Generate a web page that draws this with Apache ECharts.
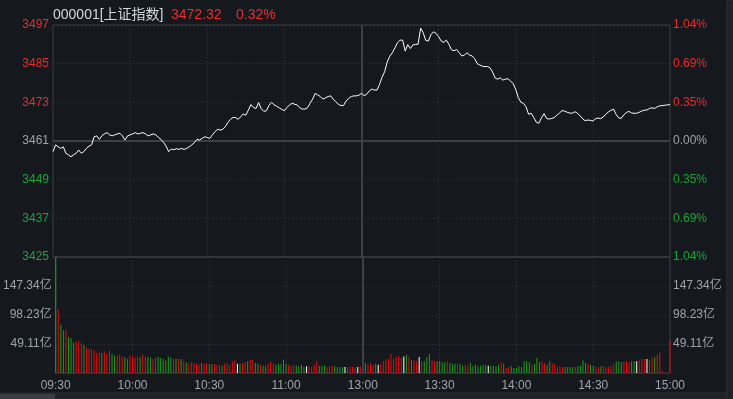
<!DOCTYPE html>
<html>
<head>
<meta charset="utf-8">
<title>000001 上证指数 分时</title>
<script src="https://cdn.jsdelivr.net/npm/echarts/dist/echarts.min.js"></script>
<style>
  html, body { margin: 0; padding: 0; background: #15181d; }
  #chart { width: 733px; height: 399px; }
</style>
</head>
<body>
<div id="chart"></div>
<script>
// 昨收 / 最新
var prevClose = 3461;
var lastPrice = 3472.32;
var lastPct = '0.32%';

var tickLabels = ['09:30', '10:00', '10:30', '11:00', '13:00', '13:30', '14:00', '14:30', '15:00'];

// 每分钟价格 (09:30 - 11:30, 13:01 - 15:00)
var prices = [
  3457.7, 3459.8, 3459.2, 3458.7, 3459.2, 3457.2, 3456.7, 3456.1, 3456.7, 3457.2,
  3458.2, 3457.2, 3457.7, 3458.7, 3459.4, 3459.8, 3462.3, 3462.6, 3461.5, 3462.6,
  3463.2, 3463.6, 3462.9, 3462.6, 3462.9, 3463.2, 3463.4, 3462.6, 3461.3, 3462.6,
  3462.9, 3463.2, 3463.6, 3463.2, 3463.4, 3463.6, 3463.2, 3462.6, 3462.9, 3463.2,
  3462.9, 3462.1, 3461.5, 3460.6, 3459.4, 3457.7, 3458.5, 3458.3, 3458.6, 3458.4,
  3458.7, 3458.4, 3458.7, 3459.2, 3459.8, 3460.5, 3461.5, 3461.3, 3461.8, 3462.3,
  3462.1, 3461.8, 3462.9, 3463.9, 3464.6, 3464.4, 3464.6, 3465.4, 3466.7, 3467.7,
  3468.3, 3468.3, 3467.7, 3468.5, 3469.4, 3469.0, 3470.6, 3472.3, 3471.4, 3471.1,
  3472.9, 3471.0, 3470.2, 3470.4, 3472.0, 3473.0, 3472.2, 3471.8, 3471.3, 3470.8,
  3470.4, 3471.4, 3472.2, 3472.7, 3472.4, 3472.2, 3471.3, 3470.9, 3470.9, 3471.3,
  3472.7, 3474.0, 3475.8, 3475.3, 3474.8, 3474.0, 3474.4, 3474.8, 3475.0, 3474.0,
  3473.2, 3472.4, 3472.0, 3472.0, 3473.4, 3474.2, 3474.8, 3475.0, 3475.0, 3475.2,
  3475.8, 3475.1, 3475.5, 3476.5, 3477.1, 3476.8, 3476.8, 3478.5, 3480.8, 3482.5,
  3485.5, 3487.3, 3488.4, 3489.9, 3491.5, 3492.3, 3492.3, 3488.9, 3490.9, 3489.7,
  3490.8, 3491.0, 3491.0, 3496.0, 3494.6, 3492.2, 3492.0, 3494.0, 3494.9, 3494.4,
  3493.4, 3492.0, 3491.6, 3492.3, 3491.0, 3489.3, 3489.0, 3489.4, 3488.4, 3487.4,
  3487.6, 3488.4, 3487.7, 3487.4, 3486.6, 3485.0, 3484.6, 3484.2, 3484.1, 3484.1,
  3483.7, 3482.4, 3480.5, 3480.2, 3480.6, 3479.9, 3480.2, 3480.3, 3479.6, 3478.8,
  3477.0, 3474.5, 3473.0, 3472.7, 3471.6, 3469.3, 3469.6, 3468.3, 3466.8, 3466.5,
  3468.2, 3469.5, 3468.0, 3467.8, 3468.0, 3468.3, 3469.0, 3469.7, 3470.4, 3470.3,
  3469.9, 3469.7, 3469.6, 3470.1, 3469.6, 3468.9, 3467.9, 3467.3, 3467.5, 3467.4,
  3467.2, 3467.9, 3468.1, 3468.0, 3468.4, 3469.3, 3470.0, 3470.5, 3470.9, 3469.3,
  3468.2, 3468.0, 3469.1, 3469.8, 3470.2, 3469.7, 3469.6, 3469.6, 3469.9, 3470.3,
  3470.6, 3470.6, 3471.1, 3471.3, 3471.1, 3471.6, 3471.9, 3472.0, 3472.1, 3472.2,
  3472.32
];

// 每分钟成交额 (亿)
var volumes = [
  240, 107, 81.6, 73, 73, 60.8, 59, 51.8, 53.5, 54.6,
  50.6, 47.8, 43.3, 40.5, 40.5, 39.4, 33.8, 34.9, 33.8, 36.6,
  32.6, 37.7, 32.1, 29.3, 29.8, 30.9, 27, 27, 24.2, 29.8,
  28.1, 26.4, 28.1, 26.4, 30.9, 28.1, 27, 26.4, 23.6, 25.3,
  27, 25.3, 23.6, 21.4, 28.1, 26.4, 23.6, 23.6, 23.6, 23.6,
  19.7, 18, 15.8, 18, 16.9, 15.8, 14.1, 16.9, 15.2, 16.9,
  15.2, 15.2, 15.8, 14.1, 14.1, 12.4, 15.8, 16.9, 14.1, 19.7,
  21.4, 15.8, 15.8, 16.9, 18.0, 19.7, 22.5, 22.5, 16.9, 15.8,
  14.1, 12.4, 12.4, 15.8, 19.7, 15.8, 14.1, 15.8, 15.8, 22.5,
  15.8, 14.1, 12.4, 12.4, 12.4, 11.3, 14.1, 10.1, 11.3, 11.3,
  10.1, 14.1, 19.7, 12.4, 12.4, 12.4, 10.1, 11.3, 12.4, 11.3,
  10.1, 10.1, 10.1, 10.1, 10.1, 10.1, 11.3, 10.1, 10.1, 11.3,
  49.5, 16.9, 14.1, 16.9, 14.1, 15.8, 14.1, 15.8, 19.7, 22.5,
  23.6, 32.6, 23.6, 28.1, 29.3, 25.3, 28.1, 30.9, 27.0, 21.4,
  21.4, 19.7, 27.0, 19.7, 19.7, 27.0, 32.6, 21.4, 19.7, 19.7,
  19.7, 18.0, 18.0, 19.7, 16.9, 15.8, 15.8, 15.8, 15.8, 12.4,
  14.1, 12.4, 16.9, 12.4, 14.1, 11.3, 12.4, 14.1, 14.1, 12.4,
  12.4, 12.4, 11.3, 14.1, 18.0, 15.8, 8.4, 10.1, 11.3, 8.4,
  8.4, 11.3, 10.1, 19.7, 19.7, 18.0, 14.1, 15.8, 25.3, 18.0,
  19.7, 16.9, 14.1, 19.7, 15.8, 15.8, 10.1, 11.3, 10.1, 10.1,
  10.1, 10.1, 10.1, 10.1, 11.3, 12.4, 21.4, 16.9, 15.8, 14.1,
  12.4, 10.1, 10.1, 11.3, 12.4, 10.1, 10.1, 11.3, 15.8, 19.7,
  19.7, 18.0, 19.7, 19.7, 18.0, 19.7, 19.7, 19.7, 21.4, 23.6,
  23.6, 23.6, 22.5, 25.3, 27.0, 30.9, 34.9, 3.9, 0, 0,
  54.6
];

var RED = '#ee2b2b', GREEN = '#1aa534', GREY = '#9fa4ab';
var FONT = 'Liberation Sans, Noto Sans CJK SC, sans-serif';
var volMax = 196.45, volStep = 49.1125;

// 分钟轴
var times = [];
for (var i = 0; i < prices.length; i++) {
  var t = i <= 120 ? 570 + i : 780 + (i - 120);
  times.push(('0' + Math.floor(t / 60)).slice(-2) + ':' + ('0' + t % 60).slice(-2));
}

var lineData = prices.map(function (p) { return +(p - prevClose).toFixed(2); });
var barData = volumes.map(function (v, i) {
  var before = i === 0 ? prevClose : prices[i - 1];
  var c = prices[i] > before ? '#e50d0d' : (prices[i] < before ? '#1c9e1c' : '#ffffff');
  return { value: v, itemStyle: { color: c } };
});

function priceColor(v) { return v > 0 ? RED : (v < 0 ? GREEN : GREY); }
function gridTick(index) { return index % 30 === 0 && index !== 0 && index !== 120 && index !== 240; }
function volLabel(v) { return (v > 0 && v < volMax - 1) ? (v + 0.0001).toFixed(2) + '亿' : ''; }

var dotted = { type: [1, 3], color: '#3a3e46', width: 1 };
var solidMid = { type: 'solid', color: '#3d4047', width: 2 };

var myChart = echarts.init(document.getElementById('chart'));
var option = {
  backgroundColor: '#15181d',
  animation: false,
  textStyle: { fontFamily: FONT },
  graphic: [
    { type: 'text', left: 53, top: 8, style: { text: '000001[上证指数]', fill: '#d5dae1', font: '14px ' + FONT } },
    { type: 'text', left: 171, top: 8, style: { text: lastPrice.toFixed(2), fill: RED, font: '14px ' + FONT } },
    { type: 'text', left: 236, top: 8, style: { text: lastPct, fill: RED, font: '14px ' + FONT } },
    { type: 'rect', shape: { x: 0, y: 393, width: 733, height: 6 }, style: { fill: '#1e2126', stroke: '#2c2f35' }, silent: true },
    { type: 'rect', shape: { x: 0, y: 394, width: 55, height: 5 }, style: { fill: '#3a3d42' }, silent: true },
    { type: 'rect', shape: { x: 727, y: 0, width: 6, height: 399 }, style: { fill: '#1e2126', stroke: '#2c2f35' }, silent: true }
  ],
  grid: [
    { left: 53, right: 63, top: 25, height: 232, show: true, borderColor: '#3b3e45', borderWidth: 1, backgroundColor: 'transparent' },
    { left: 53, right: 63, top: 257, height: 116, show: true, borderColor: '#3b3e45', borderWidth: 1, backgroundColor: 'transparent' }
  ],
  xAxis: [
    {
      type: 'category', gridIndex: 0, data: times, boundaryGap: false,
      axisLine: { show: false }, axisTick: { show: false }, axisLabel: { show: false },
      splitLine: { show: true, interval: gridTick, lineStyle: dotted }
    },
    {
      type: 'category', gridIndex: 1, data: times, boundaryGap: false,
      axisLine: { show: false }, axisTick: { show: false },
      axisLabel: {
        show: true, color: GREY, fontSize: 12, margin: 7, fontFamily: FONT,
        interval: function (index) { return index % 30 === 0; },
        formatter: function (value, index) { return tickLabels[index / 30]; }
      },
      splitLine: { show: true, interval: gridTick, lineStyle: dotted }
    }
  ],
  yAxis: [
    {
      type: 'value', gridIndex: 0, position: 'left', min: -36, max: 36, interval: 12,
      axisLine: { show: false }, axisTick: { show: false },
      axisLabel: {
        fontSize: 12, margin: 4, fontFamily: FONT, color: priceColor,
        formatter: function (v) { return (prevClose + v).toFixed(0); }
      },
      splitLine: { show: true, lineStyle: dotted }
    },
    {
      type: 'value', gridIndex: 0, position: 'right', min: -36, max: 36, interval: 12,
      axisLine: { show: false }, axisTick: { show: false },
      axisLabel: {
        fontSize: 12, margin: 3, fontFamily: FONT, color: priceColor,
        formatter: function (v) { return (Math.abs(v) / prevClose * 100).toFixed(2) + '%'; }
      },
      splitLine: { show: false }
    },
    {
      type: 'value', gridIndex: 1, position: 'left', min: 0, max: volMax, interval: volStep,
      axisLine: { show: false }, axisTick: { show: false },
      axisLabel: { fontSize: 12, margin: 4, fontFamily: FONT, color: GREY, formatter: volLabel },
      splitLine: { show: true, lineStyle: dotted }
    },
    {
      type: 'value', gridIndex: 1, position: 'right', min: 0, max: volMax, interval: volStep,
      axisLine: { show: false }, axisTick: { show: false },
      axisLabel: { fontSize: 12, margin: 3, fontFamily: FONT, color: GREY, formatter: volLabel },
      splitLine: { show: false }
    }
  ],
  series: [
    {
      name: '价格', type: 'line', xAxisIndex: 0, yAxisIndex: 0,
      data: lineData, showSymbol: false, symbol: 'none',
      lineStyle: { color: '#ffffff', width: 1 },
      z: 5,
      markLine: {
        silent: true, symbol: 'none', label: { show: false },
        lineStyle: solidMid,
        data: [{ yAxis: 0 }, { xAxis: 120 }]
      }
    },
    {
      name: '成交额', type: 'bar', xAxisIndex: 1, yAxisIndex: 2,
      data: barData, barWidth: 1,
      markLine: {
        silent: true, symbol: 'none', label: { show: false },
        lineStyle: solidMid,
        data: [{ xAxis: 120 }]
      }
    }
  ]
};
myChart.setOption(option);
</script>
</body>
</html>
